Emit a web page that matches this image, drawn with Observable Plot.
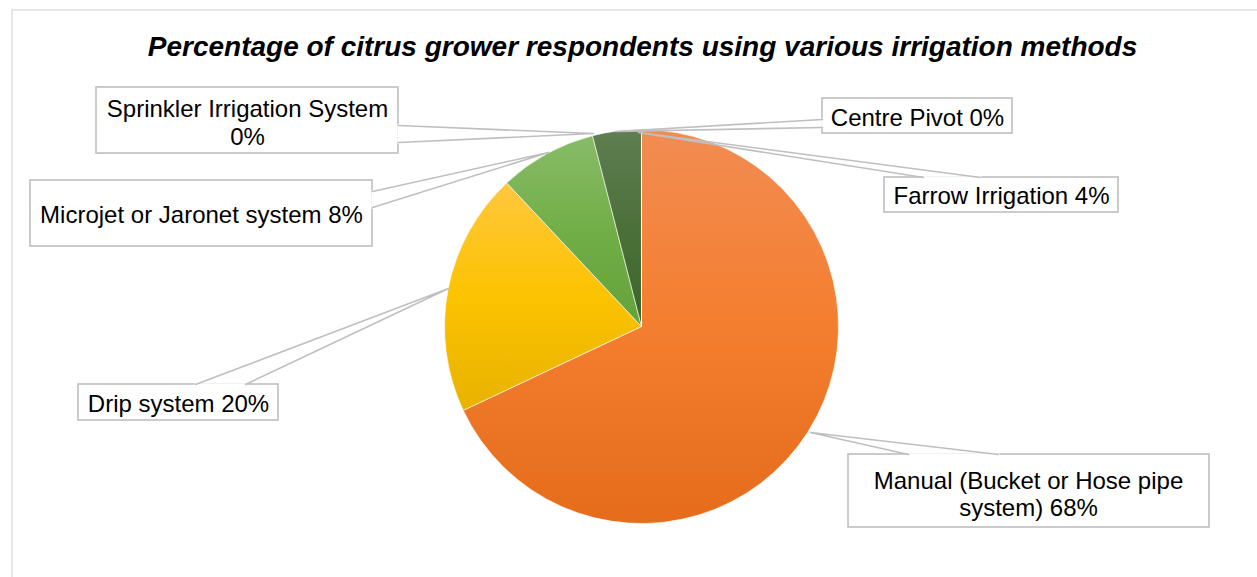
<!DOCTYPE html>
<html>
<head>
<meta charset="utf-8">
<script src="https://cdn.jsdelivr.net/npm/d3@7"></script>
<script src="https://cdn.jsdelivr.net/npm/@observablehq/plot@0.6"></script>
<style>
  html, body { margin: 0; padding: 0; background: #fff; }
  svg { display: block; font-family: "Liberation Sans", Arial, sans-serif; }
</style>
</head>
<body>
<div id="chart"></div>
<script>
// ---- data ----
const titleText = "Percentage of citrus grower respondents using various irrigation methods";
const categories = ["Manual (Bucket or Hose pipe system)", "Drip system", "Microjet or Jaronet system", "Farrow Irrigation", "Sprinkler Irrigation System", "Centre Pivot"];
const values = [68, 20, 8, 4, 0, 0];
const labelTexts = ["Manual (Bucket or Hose pipe\nsystem) 68%", "Drip system 20%", "Microjet or Jaronet system 8%", "Farrow Irrigation 4%", "Sprinkler Irrigation System\n0%", "Centre Pivot 0%"];
const gradients = [
  ["#F28C52", "#F47E2F", "#E46C1B"],
  ["#FFC73E", "#FCC300", "#E8B200"],
  ["#88BC68", "#71AE47", "#64A23A"],
  ["#5F7E52", "#4C703A", "#3C6526"],
  ["#A5A5A5", "#A5A5A5", "#A5A5A5"],
  ["#4472C4", "#4472C4", "#4472C4"]
];

// ---- layout (pixel space) ----
const W = 1257, H = 577;
const pie = {cx: 641.5, cy: 326.5, r: 197};
const boxes = [
  {x1: 848, y1: 454, x2: 1209, y2: 527, tx: 1028, ty: 493, a: [908, 454], b: [998, 454], tip: [810, 432]},
  {x1: 78, y1: 384, x2: 278, y2: 420, tx: 178, ty: 403, a: [195, 384], b: [245, 384], tip: [448, 288]},
  {x1: 30, y1: 180, x2: 372, y2: 246, tx: 201, ty: 214, a: [372, 191], b: [372, 207], tip: [548, 152]},
  {x1: 884, y1: 177, x2: 1118, y2: 212, tx: 1001, ty: 195, a: [923, 177], b: [980, 177], tip: [638, 132]},
  {x1: 96, y1: 87, x2: 398, y2: 153, tx: 247, ty: 121.5, a: [398, 125], b: [398, 142], tip: [593, 133]},
  {x1: 822, y1: 98, x2: 1012, y2: 133, tx: 917, ty: 117, a: [822, 119], b: [822, 127], tip: [615, 131]}
];

const rows = categories.map((c, i) => ({category: c, value: values[i], label: labelTexts[i], ...boxes[i]}));

const pointerPts = rows.flatMap((d, i) => [
  {k: i, x: d.a[0], y: d.a[1]},
  {k: i, x: d.tip[0], y: d.tip[1]},
  {k: i, x: d.b[0], y: d.b[1]}
]);
const gapSegs = rows.flatMap((d, i) => [
  {k: i, x: d.a[0], y: d.a[1]},
  {k: i, x: d.b[0], y: d.b[1]}
]);

// pie mark rendered through the plot's own x/y scales
function pieMark(index, scales) {
  const g = d3.create("svg:g");
  const defs = g.append("defs");
  const arcs = d3.pie().sort(null).value(d => d.value)(rows);
  const cx = scales.x(pie.cx), cy = scales.y(pie.cy);
  const arc = d3.arc().innerRadius(0).outerRadius(scales.x(pie.cx + pie.r) - cx);
  arcs.forEach((a, i) => {
    const id = "grad" + i;
    const lg = defs.append("linearGradient").attr("id", id)
      .attr("x1", 0).attr("y1", 0).attr("x2", 0).attr("y2", 1);
    gradients[i].forEach((c, j) => lg.append("stop").attr("offset", j / 2).attr("stop-color", c));
  });
  g.selectAll("path").data(arcs).join("path")
    .attr("transform", `translate(${cx},${cy})`)
    .attr("d", arc)
    .attr("fill", (d, i) => `url(#grad${i})`)
    .attr("stroke", "#fff")
    .attr("stroke-width", 0.6);
  return g.node();
}

const chart = Plot.plot({
  width: W,
  height: H,
  margin: 0,
  x: {domain: [0, W], range: [0, W], axis: null},
  y: {domain: [0, H], range: [0, H], axis: null},
  style: {fontFamily: '"Liberation Sans", Arial, sans-serif', background: "#fff"},
  marks: [
    Plot.rect([{x1: 12, y1: 10, x2: 1300, y2: 600}], {x1: "x1", y1: "y1", x2: "x2", y2: "y2", fill: "none", stroke: "#D9D9D9", strokeWidth: 1.3}),
    Plot.text([titleText], {x: () => 642, y: () => 47, text: d => d, fontSize: 28, fontWeight: "bold", fontStyle: "italic", fill: "#000"}),
    pieMark,
    Plot.rect(rows, {x1: "x1", y1: "y1", x2: "x2", y2: "y2", fill: "#fff", stroke: "#BFBFBF", strokeWidth: 1.6}),
    Plot.line(gapSegs, {x: "x", y: "y", z: "k", stroke: "#fff", strokeWidth: 2.5}),
    Plot.line(pointerPts, {x: "x", y: "y", z: "k", stroke: "#BFBFBF", strokeWidth: 1.6, curve: "linear"}),
    Plot.text(rows, {x: "tx", y: "ty", text: "label", fontSize: 24, fill: "#000", lineHeight: 1.15})
  ]
});
document.getElementById("chart").appendChild(chart);
</script>
</body>
</html>
